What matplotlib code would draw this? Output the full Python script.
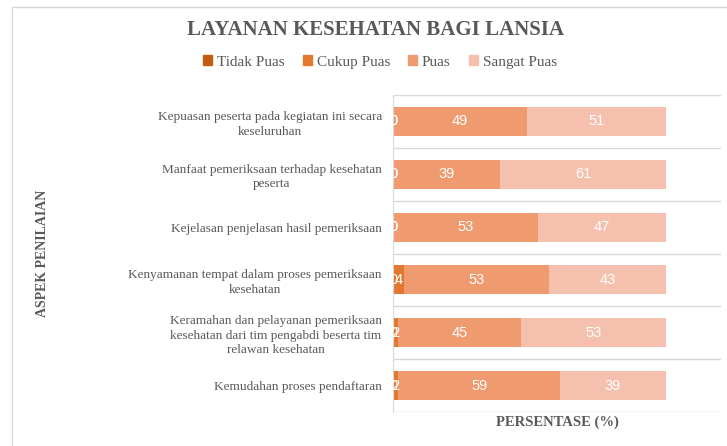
import matplotlib.pyplot as plt
import numpy as np
from matplotlib.lines import Line2D

# Data
aspek = [
    "Kemudahan proses pendaftaran",
    "Keramahan dan pelayanan pemeriksaan\nkesehatan dari tim pengabdi beserta tim\nrelawan kesehatan",
    "Kenyamanan tempat dalam proses pemeriksaan\nkesehatan",
    "Kejelasan penjelasan hasil pemeriksaan",
    "Manfaat pemeriksaan terhadap kesehatan\npeserta",
    "Kepuasan peserta pada kegiatan ini secara\nkeseluruhan",
]
kategori = ["Tidak Puas", "Cukup Puas", "Puas", "Sangat Puas"]
tidak_puas = [0, 0, 0, 0, 0, 0]
cukup_puas = [2, 2, 4, 0, 0, 0]
puas = [59, 45, 53, 53, 39, 49]
sangat_puas = [39, 53, 43, 47, 61, 51]

warna = ["#C55A11", "#E2782F", "#F09A6F", "#F5C1AE"]
abu = "#595959"
serif = "Liberation Serif"

fig = plt.figure(figsize=(7.27, 4.46), dpi=100)
ax = fig.add_axes([393 / 727, 1 - 412 / 446, (721 - 393) / 727, (412 - 95) / 446])

y = np.arange(len(aspek))
kiri = np.zeros(len(aspek))
for nama, nilai, w in zip(kategori, [tidak_puas, cukup_puas, puas, sangat_puas], warna):
    bars = ax.barh(y, nilai, left=kiri, height=0.55, color=w, label=nama, zorder=2)
    for b, v in zip(bars, nilai):
        t = ax.text(b.get_x() + b.get_width() / 2, b.get_y() + b.get_height() / 2,
                    str(v), ha="center", va="center", color="white",
                    fontsize=10.5, family="Liberation Sans", zorder=3)
        t.set_clip_on(True)
    kiri += np.array(nilai)

ax.set_xlim(0, 120)
ax.set_ylim(-0.5, len(aspek) - 0.5)
ax.set_xticks([])
ax.set_yticks(y)
ax.set_yticklabels(aspek, fontsize=9.5, family=serif, color=abu)
for lbl in ax.get_yticklabels():
    lbl.set_multialignment("center")
    lbl.set_linespacing(1.3)
ax.tick_params(axis="y", length=0, pad=8)

# garis pemisah kategori
for b in np.arange(-0.5, len(aspek), 1.0):
    ax.axhline(b, color="#D9D9D9", lw=1, zorder=1)
for s in ["top", "right", "bottom"]:
    ax.spines[s].set_visible(False)
ax.spines["left"].set_color("#D9D9D9")

fig.text(42 / 727, 1 - 253 / 446, "ASPEK PENILAIAN", rotation=90, ha="center", va="center",
         fontsize=10, fontweight="bold", family=serif, color=abu)
fig.text(557 / 727, 1 - 422 / 446, "PERSENTASE (%)", ha="center", va="center",
         fontsize=10.5, fontweight="bold", family=serif, color=abu)
fig.text(376 / 727, 1 - 30 / 446, "LAYANAN KESEHATAN BAGI LANSIA", ha="center", va="center",
         fontsize=15, fontweight="bold", family=serif, color=abu)

handles = [plt.Rectangle((0, 0), 1, 1, color=w) for w in warna]
fig.legend(handles, kategori, loc="center", bbox_to_anchor=(380 / 727, 1 - 62 / 446), ncol=4,
           frameon=False, handlelength=0.6, handleheight=0.6, handletextpad=0.3,
           columnspacing=1.2, prop={"family": serif, "size": 11}, labelcolor=abu)

# bingkai grafik
fig.add_artist(Line2D([12 / 727, 1], [1 - 7 / 446] * 2, color="#D9D9D9", lw=1))
fig.add_artist(Line2D([12 / 727] * 2, [0, 1 - 7 / 446], color="#D9D9D9", lw=1))

plt.savefig("out.png", dpi=100)
